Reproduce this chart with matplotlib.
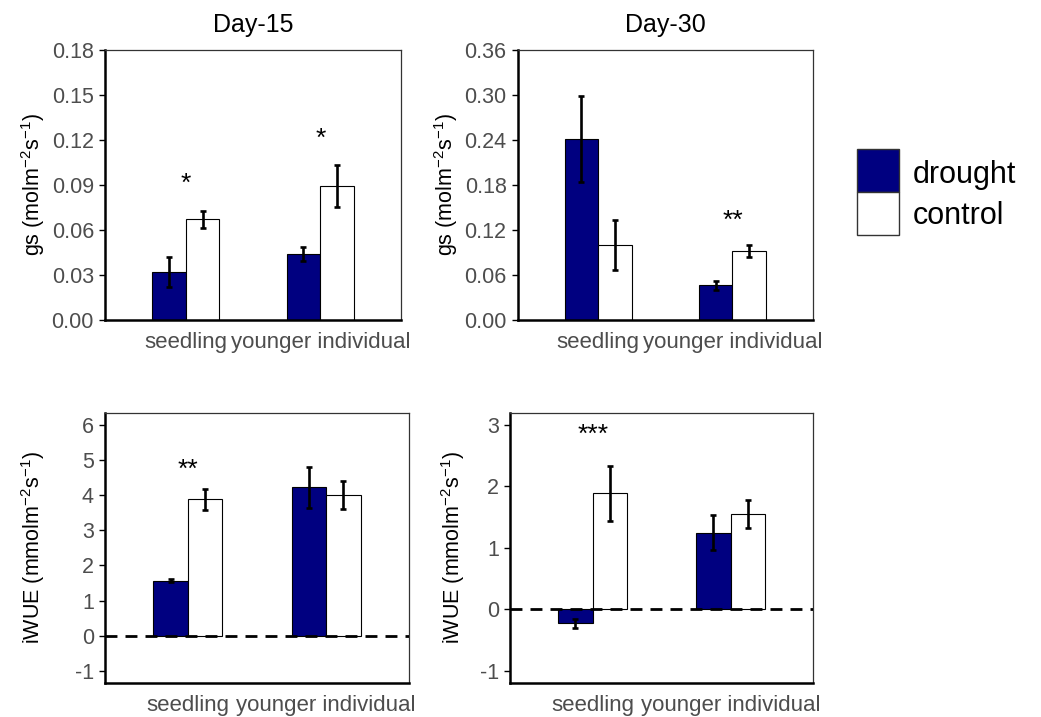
import numpy as np
import matplotlib
matplotlib.use('Agg')
import matplotlib.pyplot as plt
from matplotlib.patches import Rectangle
from matplotlib.transforms import offset_copy

plt.rcParams['font.family'] = ['Liberation Sans', 'DejaVu Sans']
plt.rcParams['mathtext.default'] = 'regular'

groups = ['seedling', 'younger individual']
treatments = ['drought', 'control']
colors = {'drought': 'navy', 'control': 'white'}

# gs, day 15
gs15_mean = {'drought': [0.032, 0.044], 'control': [0.067, 0.0895]}
gs15_err = {'drought': [0.0098, 0.0047], 'control': [0.0055, 0.014]}
# gs, day 30
gs30_mean = {'drought': [0.241, 0.046], 'control': [0.100, 0.092]}
gs30_err = {'drought': [0.057, 0.0063], 'control': [0.033, 0.0085]}
# iWUE, day 15
iwue15_mean = {'drought': [1.57, 4.22], 'control': [3.89, 4.01]}
iwue15_err = {'drought': [0.05, 0.59], 'control': [0.30, 0.40]}
# iWUE, day 30
iwue30_mean = {'drought': [-0.23, 1.25], 'control': [1.89, 1.55]}
iwue30_err = {'drought': [0.077, 0.29], 'control': [0.445, 0.233]}

# significance marks: (group index, label, y)
gs15_sig = [(0, '*', 0.093), (1, '*', 0.123)]
gs30_sig = [(1, '**', 0.136)]
iwue15_sig = [(0, '**', 4.81)]
iwue30_sig = [(0, '***', 2.89)]

gs_label = 'gs (molm$^{-2}$s$^{-1}$)'
iwue_label = 'iWUE (mmolm$^{-2}$s$^{-1}$)'

fig = plt.figure(figsize=(10.41, 7.17), dpi=100)

panels = [
    ([0.1009, 0.5537, 0.2843, 0.3766], gs15_mean, gs15_err, gs15_sig, gs_label,
     (0, 0.18), np.arange(0, 0.181, 0.03), '{:.2f}', 'Day-15', False, -0.197),
    ([0.4973, 0.5537, 0.2837, 0.3766], gs30_mean, gs30_err, gs30_sig, gs_label,
     (0, 0.36), np.arange(0, 0.361, 0.06), '{:.2f}', 'Day-30', False, -0.197),
    ([0.1009, 0.0478, 0.2920, 0.3766], iwue15_mean, iwue15_err, iwue15_sig, iwue_label,
     (-1.34, 6.35), np.arange(-1, 7), '{:g}', None, True, -0.19),
    ([0.4899, 0.0478, 0.2914, 0.3766], iwue30_mean, iwue30_err, iwue30_sig, iwue_label,
     (-1.195, 3.2), np.arange(-1, 4), '{:g}', None, True, -0.143),
]

x = np.arange(1, len(groups) + 1)
width = 0.25
offsets = {'drought': -width / 2, 'control': width / 2}

for rect, means, errs, sig, ylabel, ylim, yticks, fmt, title, hline, labx in panels:
    ax = fig.add_axes(rect)
    if hline:
        ax.axhline(0, color='black', lw=2.0, ls=(0, (4.3, 2.9)), zorder=4)
    for t in treatments:
        ax.bar(x + offsets[t], means[t], width, color=colors[t],
               edgecolor='black', linewidth=0.8, zorder=2)
        ax.errorbar(x + offsets[t], means[t], yerr=errs[t], fmt='none',
                    ecolor='black', elinewidth=1.9, capsize=2.5, capthick=1.9, zorder=3)
    # asterisk glyph sits high in its box, nudge it down a little
    star_tr = offset_copy(ax.transData, fig=fig, y=-3, units='dots')
    for gi, lab, yv in sig:
        ax.text(x[gi], yv, lab, ha='center', va='center', fontsize=19, transform=star_tr)

    ax.set_xlim(0.4, 2.6)
    ax.set_ylim(*ylim)
    ax.set_yticks(yticks)
    ax.set_yticklabels([fmt.format(v) for v in yticks])
    ax.set_xticks(x)
    ax.set_xticklabels(groups)
    ax.tick_params(axis='x', length=0, pad=9, labelsize=16, labelcolor='#4D4D4D')
    ax.tick_params(axis='y', length=4.5, width=1, labelsize=15.5, labelcolor='#4D4D4D')
    ax.set_ylabel(ylabel, fontsize=15.5)
    ax.yaxis.set_label_coords(labx, 0.5)
    for s in ['left', 'bottom']:
        ax.spines[s].set_linewidth(1.8)
        ax.spines[s].set_color('black')
    for s in ['top', 'right']:
        ax.spines[s].set_linewidth(0.9)
        ax.spines[s].set_color('#333333')
    if title:
        ax.set_title(title, fontsize=18, pad=13)

# legend keys, drawn in figure pixels
W, H = 1041, 717
key_left, key_top, key_w, key_h = 857, 149, 42, 43
for i, t in enumerate(treatments):
    top = key_top + i * key_h
    fig.add_artist(Rectangle((key_left / W, (H - top - key_h) / H), key_w / W, key_h / H,
                             facecolor=colors[t], edgecolor='#333333', linewidth=1.0,
                             transform=fig.transFigure))
    fig.text(913 / W, (H - (183 + i * 41)) / H, t, fontsize=22, va='baseline', ha='left')

fig.savefig('out.png', dpi=100)
